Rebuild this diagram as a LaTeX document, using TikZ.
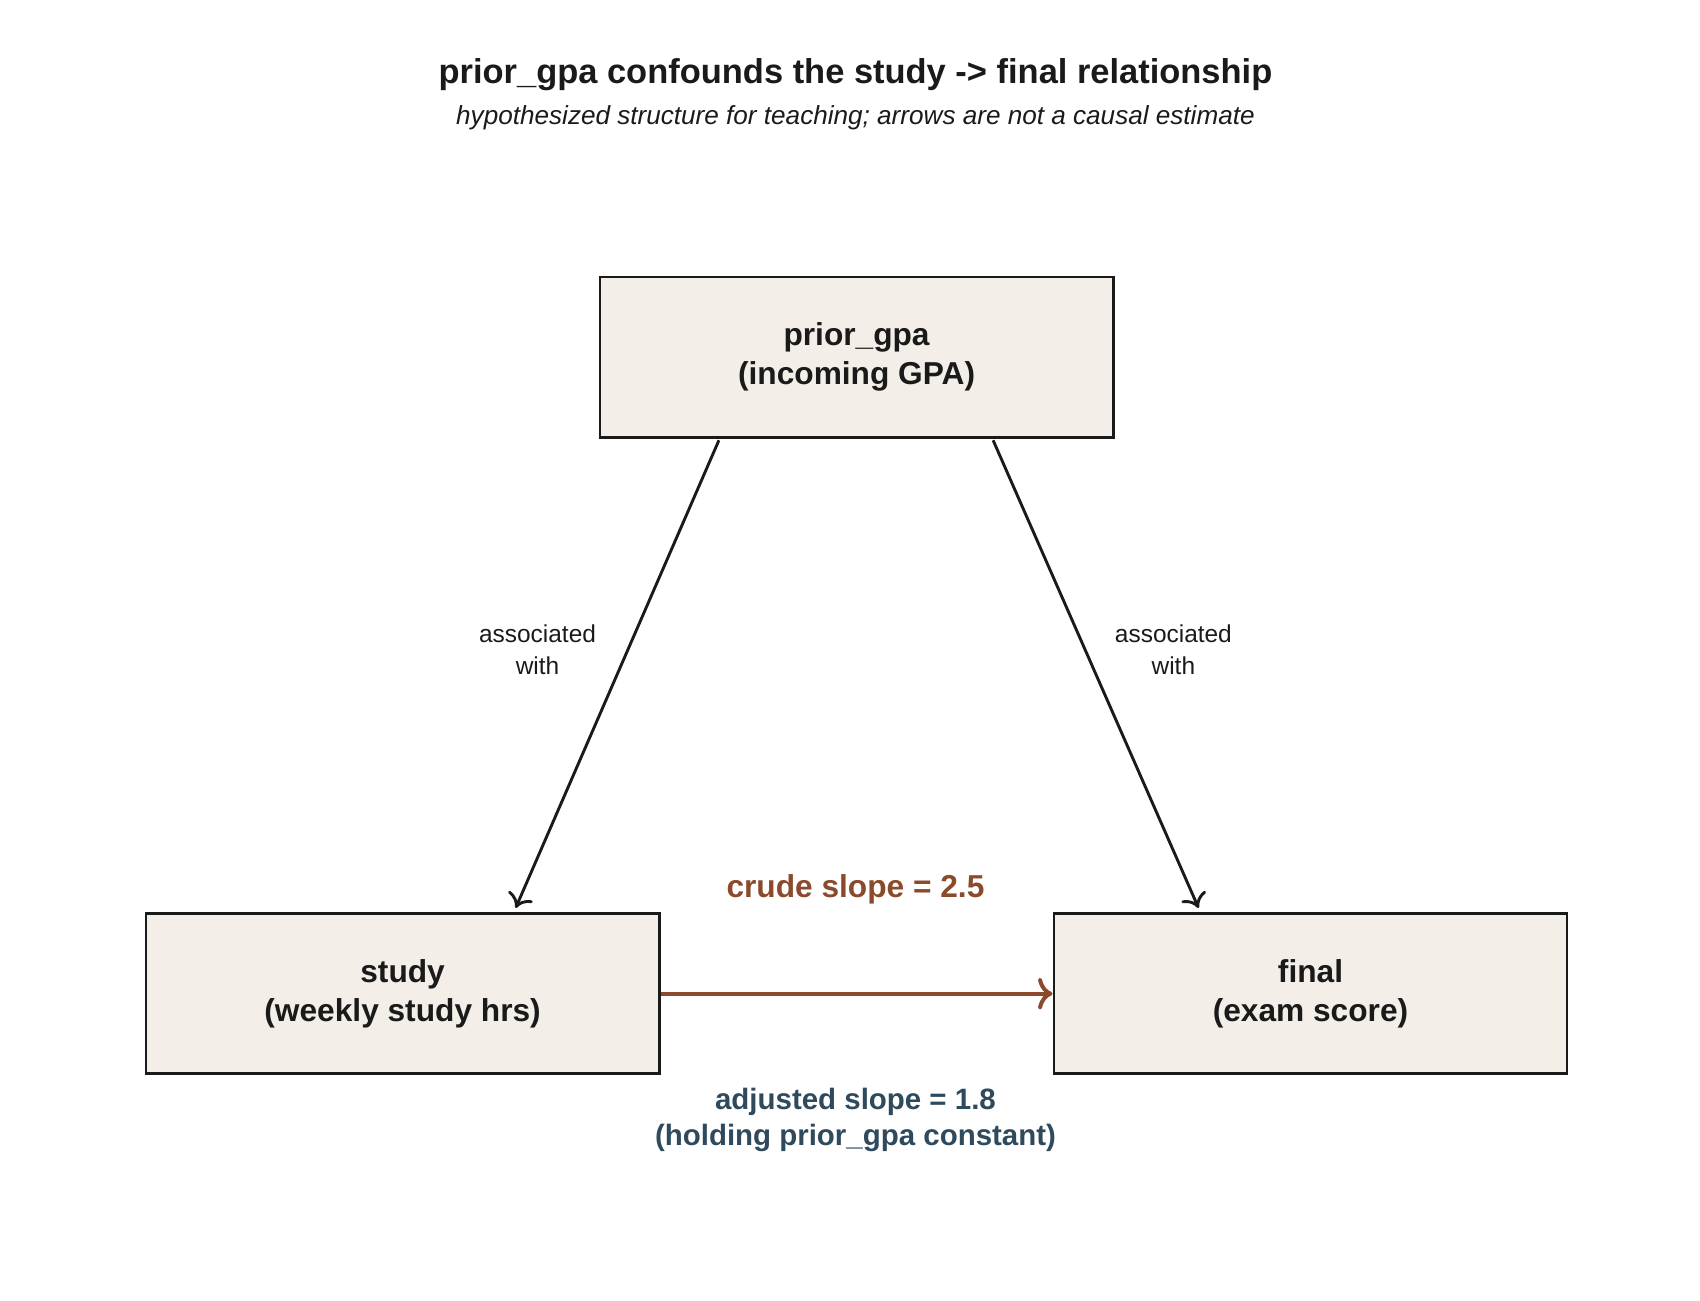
\documentclass[tikz,border=0pt]{standalone}
\usepackage{fontspec}
\setmainfont{Liberation Sans}
\usetikzlibrary{arrows.meta}
\definecolor{boxfill}{HTML}{F3EFE8}
\definecolor{crude}{HTML}{8B4A2B}
\definecolor{adj}{HTML}{2E4A5C}
\definecolor{ink}{HTML}{1A1A1A}
\begin{document}
\begin{tikzpicture}[x=0.983pt,y=-0.983pt,
  box/.style={draw=ink,line width=2.2pt,fill=boxfill,minimum width=462pt,minimum height=144pt,align=center,font=\fontsize{28.5}{35}\selectfont\bfseries,text=ink},
  lab/.style={align=center,font=\fontsize{22}{29}\selectfont,text=ink},
  arr/.style={draw=ink,line width=2.6pt,-{To[length=12pt,width=24pt,line width=2.6pt]}}]
\useasboundingbox (0,0) rectangle (1556,1190);
\node[font=\fontsize{31}{36}\selectfont\bfseries,text=ink] (title) at (783,68) {prior\_gpa confounds the study -> final relationship};
\node[font=\fontsize{23.5}{28}\selectfont\itshape,text=ink] (sub) at (783,108) {hypothesized structure for teaching; arrows are not a causal estimate};
\node[box] (gpa) at (784,327) {prior\_gpa\\(incoming GPA)};
\node[box] (study) at (368.5,909.5) {study\\(weekly study hrs)};
\node[box] (final) at (1199.5,909.5) {final\\(exam score)};
\coordinate (a1) at (658,403); \coordinate (a2) at (472,831);
\coordinate (b1) at (909,403); \coordinate (b2) at (1097,831);
\draw[arr] (a1) -- (a2);
\draw[arr] (b1) -- (b2);
\draw[line width=3.6pt,draw=crude,-{To[length=13pt,width=28pt,line width=3.6pt]}] (study.east) -- (final.west);
\node[lab] (l1) at (492,595) {associated\\with};
\node[lab] (l2) at (1074,595) {associated\\with};
\node[font=\fontsize{28.5}{33}\selectfont\bfseries,text=crude] (crudel) at (783,814) {crude slope = 2.5};
\node[align=center,font=\fontsize{26.5}{33}\selectfont\bfseries,text=adj] (adjl) at (783,1025) {adjusted slope = 1.8\\(holding prior\_gpa constant)};
\end{tikzpicture}
\end{document}
